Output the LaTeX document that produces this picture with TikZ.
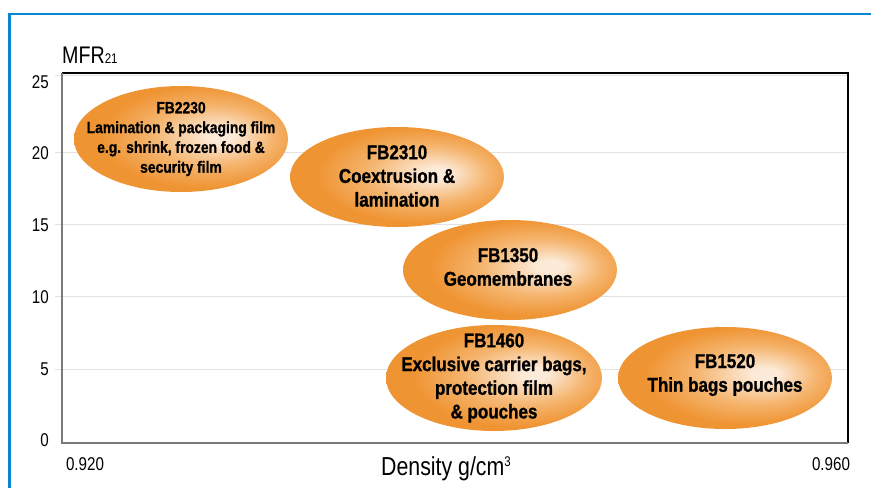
\documentclass[tikz,border=0pt]{standalone}
\usepackage{fontspec}
\setmainfont{Liberation Sans}[FakeStretch=0.82]
\newfontfamily\lblfont{Liberation Sans}[BoldFeatures={FakeStretch=0.85,FakeBold=1.0}]
\usetikzlibrary{shapes.geometric}
\definecolor{frameblue}{HTML}{0A86CE}
\definecolor{oedge}{HTML}{EF9433}
\definecolor{omid}{HTML}{F5B56F}
\definecolor{ocenter}{HTML}{FCEAD8}
\definecolor{gridgray}{HTML}{E2E2E2}
\definecolor{axisgray}{HTML}{7A7A7A}
\pgfdeclareradialshading{orangeball}{\pgfpoint{10bp}{2bp}}{color(0bp)=(ocenter); color(3bp)=(ocenter); color(14bp)=(omid); color(24bp)=(oedge); color(25bp)=(oedge); color(50bp)=(oedge)}
\tikzset{
  blob/.style={ellipse, inner sep=0pt, shading=orangeball, draw=none},
  bigtxt/.style={align=center, inner sep=0pt, font=\lblfont\bfseries\fontsize{20}{23.7}\selectfont},
  smalltxt/.style={align=center, inner sep=0pt, font=\lblfont\bfseries\fontsize{16.3}{19.8}\selectfont},
  ticklbl/.style={inner sep=0pt, font=\fontsize{18.5}{18.5}\selectfont},
  axislbl/.style={inner sep=0pt, font=\fontsize{26}{26}\selectfont},
  gridline/.style={gridgray, line width=1pt},
}
\begin{document}
\begin{tikzpicture}[x=1pt,y=-1pt]
\useasboundingbox (0,0) rectangle (871,488);
% frame
\draw[frameblue, line width=2.7pt, line join=miter] (9.5,488) -- (9.5,14) -- (871,14);
% grid
\foreach \gy in {75,152,224,296,369} \draw[gridline] (55,\gy) -- (848,\gy);
% plot box
\draw[black, line width=1.2pt] (62,73) -- (848,73) -- (848,443);
\draw[axisgray, line width=2pt] (62,73) -- (62,443) -- (848,443);
% tick labels
\node[ticklbl, anchor=east] (y25) at (49,82) {25};
\node[ticklbl, anchor=east] (y20) at (49,153) {20};
\node[ticklbl, anchor=east] (y15) at (49,225) {15};
\node[ticklbl, anchor=east] (y10) at (49,297) {10};
\node[ticklbl, anchor=east] (y5) at (49,369) {5};
\node[ticklbl, anchor=east] (y0) at (49,440) {0};
\node[ticklbl] (x920) at (85,464) {0.920};
\node[ticklbl] (x960) at (831,464) {0.960};
\node[axislbl, anchor=base west] (xlab) at (381,475) {Density g/cm\raisebox{8.5pt}{\fontsize{14}{14}\selectfont 3}};
\node[axislbl, anchor=base west, font=\fontsize{24}{24}\selectfont] (ylab) at (62,63) {MFR{\fontsize{14}{14}\selectfont 21}};
% ellipses
\node[blob, minimum width=214pt, minimum height=106pt] (e1) at (181,139) {};
\node[blob, minimum width=214pt, minimum height=100pt] (e2) at (397,177) {};
\node[blob, minimum width=214pt, minimum height=100pt] (e3) at (510,270) {};
\node[blob, minimum width=216pt, minimum height=106pt] (e4) at (494,378) {};
\node[blob, minimum width=214pt, minimum height=102pt] (e5) at (725,378) {};
% texts
\node[smalltxt] (t1) at (181,139) {FB2230\\Lamination \& packaging film\\e.g. shrink, frozen food \&\\security film};
\node[bigtxt] (t2) at (397,176) {FB2310\\Coextrusion \&\\lamination};
\node[bigtxt] (t3) at (508,267) {FB1350\\Geomembranes};
\node[bigtxt] (t4) at (494,378) {FB1460\\Exclusive carrier bags,\\protection film\\\& pouches};
\node[bigtxt] (t5) at (725,375) {FB1520\\Thin bags pouches};
\end{tikzpicture}
\end{document}
